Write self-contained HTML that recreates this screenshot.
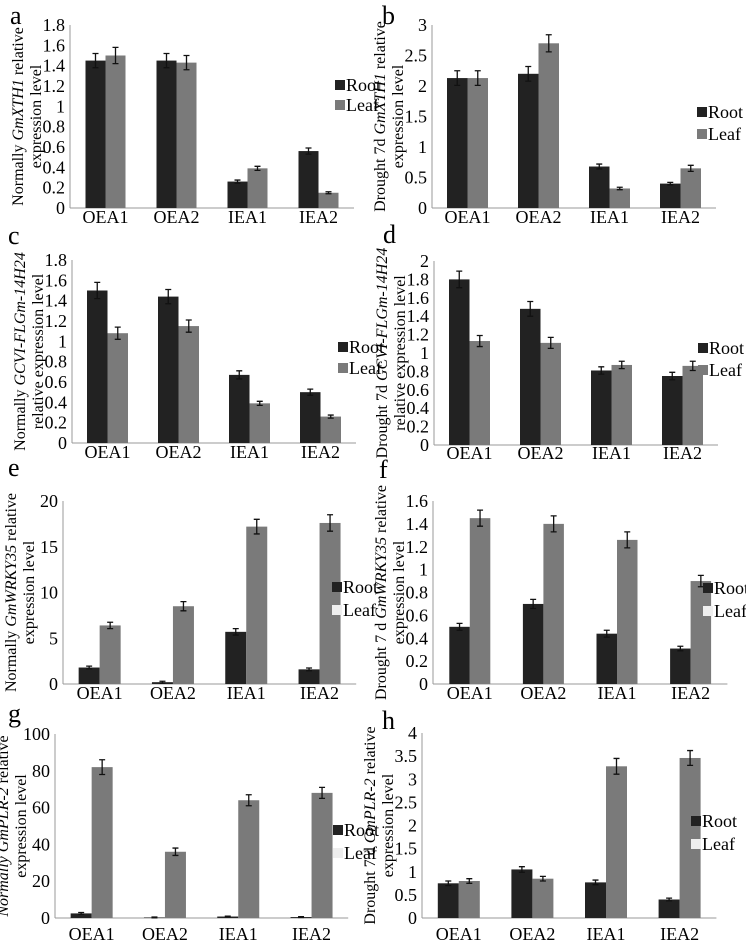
<!DOCTYPE html>
<html><head><meta charset="utf-8">
<style>
html,body{margin:0;padding:0;background:#fff;}
svg{display:block;}
svg text{font-family:"Liberation Serif","DejaVu Serif",serif;}
</style></head>
<body>
<svg id="fig" width="746" height="942" viewBox="0 0 746 942" font-family="Liberation Serif, DejaVu Serif, serif"></svg>
<script>
const categories = ["OEA1","OEA2","IEA1","IEA2"];
const seriesNames = ["Root","Leaf"];
const aRoot=[1.45,1.45,0.26,0.56], aRootErr=[0.07,0.07,0.015,0.03], aLeaf=[1.50,1.43,0.39,0.15], aLeafErr=[0.08,0.07,0.02,0.01];
const bRoot=[2.13,2.20,0.68,0.40], bRootErr=[0.12,0.12,0.04,0.02], bLeaf=[2.13,2.70,0.32,0.65], bLeafErr=[0.12,0.14,0.02,0.05];
const cRoot=[1.50,1.44,0.67,0.50], cRootErr=[0.08,0.07,0.04,0.03], cLeaf=[1.08,1.15,0.39,0.26], cLeafErr=[0.06,0.06,0.02,0.015];
const dRoot=[1.80,1.48,0.81,0.75], dRootErr=[0.09,0.08,0.04,0.04], dLeaf=[1.13,1.11,0.87,0.86], dLeafErr=[0.06,0.06,0.04,0.05];
const eRoot=[1.8,0.2,5.7,1.6], eRootErr=[0.15,0.1,0.35,0.15], eLeaf=[6.4,8.5,17.2,17.6], eLeafErr=[0.35,0.5,0.8,0.9];
const fRoot=[0.50,0.70,0.44,0.31], fRootErr=[0.03,0.04,0.03,0.02], fLeaf=[1.45,1.40,1.26,0.90], fLeafErr=[0.07,0.07,0.07,0.05];
const gRoot=[2.5,0.3,0.8,0.5], gRootErr=[0.5,0.2,0.2,0.2], gLeaf=[82,36,64,68], gLeafErr=[4,2,3,3];
const hRoot=[0.75,1.05,0.77,0.40], hRootErr=[0.05,0.06,0.05,0.03], hLeaf=[0.80,0.85,3.28,3.46], hLeafErr=[0.05,0.05,0.17,0.16];
const aTicks=[0,0.2,0.4,0.6,0.8,1,1.2,1.4,1.6,1.8];
const bTicks=[0,0.5,1,1.5,2,2.5,3];
const cTicks=[0,0.2,0.4,0.6,0.8,1,1.2,1.4,1.6,1.8];
const dTicks=[0,0.2,0.4,0.6,0.8,1,1.2,1.4,1.6,1.8,2];
const eTicks=[0,5,10,15,20];
const fTicks=[0,0.2,0.4,0.6,0.8,1,1.2,1.4,1.6];
const gTicks=[0,20,40,60,80,100];
const hTicks=[0,0.5,1,1.5,2,2.5,3,3.5,4];

const NS="http://www.w3.org/2000/svg";
const svg=document.getElementById('fig');
const FF="'Liberation Serif','DejaVu Serif',serif";
function mk(tag,attrs,parent,text){const e=document.createElementNS(NS,tag);for(const k in attrs)e.setAttribute(k,attrs[k]);if(tag==='text')e.setAttribute('font-family',FF);if(text!==undefined)e.textContent=text;(parent||svg).appendChild(e);return e;}

const panels=[
 {id:'a',root:aRoot,rootErr:aRootErr,leaf:aLeaf,leafErr:aLeafErr,ticks:aTicks,ax:70,top:25,zero:208,sp:71,bw:20,letter:[10,24],lbl:[["Normally ",["GmXTH1"]," relative"],["expression level"]],lgx:335,lgy:[91,111],xly:223,lightLeaf:false},
 {id:'b',root:bRoot,rootErr:bRootErr,leaf:bLeaf,leafErr:bLeafErr,ticks:bTicks,ax:432,top:25,zero:208,sp:71,bw:20.5,letter:[382,24],lbl:[["Drought  7d ",["GmXTH1"]," relative"],["expression level"]],lgx:697,lgy:[118,140],xly:223,lightLeaf:false},
 {id:'c',root:cRoot,rootErr:cRootErr,leaf:cLeaf,leafErr:cLeafErr,ticks:cTicks,ax:72,top:260,zero:443,sp:71,bw:20.5,letter:[8,244],lbl:[["Normally ",["GCVI-FLGm-14H24"]],["relative expression level"]],lgx:338,lgy:[353,374],xly:458,lightLeaf:false},
 {id:'d',root:dRoot,rootErr:dRootErr,leaf:dLeaf,leafErr:dLeafErr,ticks:dTicks,ax:434,top:261,zero:445,sp:71,bw:20.5,letter:[383,243],lbl:[["Drought  7d ",["GCVI-FLGm-14H24"]],["relative expression level"]],lgx:698,lgy:[354,376],xly:459,lightLeaf:false},
 {id:'e',root:eRoot,rootErr:eRootErr,leaf:eLeaf,leafErr:eLeafErr,ticks:eTicks,ax:63,top:501,zero:684,sp:73.3,bw:21,letter:[8,476],lbl:[["Normally ",["GmWRKY35"]," relative"],["expression level"]],lgx:332,lgy:[593,616],xly:699,lightLeaf:true},
 {id:'f',root:fRoot,rootErr:fRootErr,leaf:fLeaf,leafErr:fLeafErr,ticks:fTicks,ax:433,top:501,zero:684,sp:73.6,bw:20.5,letter:[379,478],lbl:[["Drought 7 d ",["GmWRKY35"]," relative"],["expression level"]],lgx:703,lgy:[594,617],xly:699,lightLeaf:true},
 {id:'g',root:gRoot,rootErr:gRootErr,leaf:gLeaf,leafErr:gLeafErr,ticks:gTicks,ax:55,top:734,zero:918,sp:73.3,bw:21,letter:[8,722],lbl:[[["Normally"]," ",["GmPLR-2"]," relative"],["expression level"]],lgx:333,lgy:[836,859],xly:940,lightLeaf:true},
 {id:'h',root:hRoot,rootErr:hRootErr,leaf:hLeaf,leafErr:hLeafErr,ticks:hTicks,ax:422,top:733,zero:918,sp:73.6,bw:21,letter:[382,729],lbl:[["Drought 7 d ",["GmPLR-2"]," relative"],["expression level"]],lgx:691,lgy:[827,850],xly:940,lightLeaf:true}
];

panels.forEach(p=>{
 const g=mk('g',{});
 
 
 const tmax=p.ticks[p.ticks.length-1];
 const y=v=>p.zero-(v/tmax)*(p.zero-p.top);
 const right=p.ax+4*p.sp;
 const L=mk('text',{x:p.letter[0],y:p.letter[1],'font-size':26},g,p.id);
 
 
 const yax=mk('line',{x1:p.ax,y1:p.top,x2:p.ax,y2:p.zero,stroke:'#999','stroke-width':1},g);
 
 
 const xax=mk('line',{x1:p.ax,y1:p.zero,x2:right,y2:p.zero,stroke:'#999','stroke-width':1},g);
 
 
 p.ticks.forEach(t=>{
  const tl=mk('text',{x:p.ax-5,y:y(t)+6,'font-size':18,'text-anchor':'end'},g,String(t));
  
  
 });
 categories.forEach((c,i)=>{
  const cx=p.ax+p.sp*(i+0.5);
  const xl=mk('text',{x:cx,y:p.xly,'font-size':18,'text-anchor':'middle'},g,c);
  
  
  [[p.root[i],p.rootErr[i],'#222',-p.bw],[p.leaf[i],p.leafErr[i],'#7a7a7a',0]].forEach((s,k)=>{
   const bx=cx+s[3];
   const r=mk('rect',{x:bx,y:y(s[0]),width:p.bw,height:p.zero-y(s[0]),fill:s[2]},g);
   
   
   const ex=bx+p.bw/2, y1=y(s[0]+s[1]), y2=y(s[0]-s[1]);
   const eb=mk('path',{d:`M${ex},${y1}V${y2}M${ex-3},${y1}H${ex+3}M${ex-3},${y2}H${ex+3}`,stroke:'#111','stroke-width':1.3,fill:'none'},g);
   
   
  });
 });
 seriesNames.forEach((n,k)=>{
  const col=k===0?'#222':(p.lightLeaf?'#eeeeee':'#7a7a7a');
  const sw=mk('rect',{x:p.lgx,y:p.lgy[k]-11,width:10,height:10,fill:col},g);
  
  
  const lt=mk('text',{x:p.lgx+11,y:p.lgy[k],'font-size':18},g,n);
  
  
 });
 const cy=(p.top+p.zero)/2;
 [p.ax-47,p.ax-29].forEach((bx,li)=>{
  const t=mk('text',{x:bx,y:cy,'font-size':16,'text-anchor':'middle',transform:`rotate(-90 ${bx} ${cy})`},g);
  
  
  p.lbl[li].forEach(part=>{
   if(Array.isArray(part)) mk('tspan',{'font-style':'italic'},t,part[0]);
   else mk('tspan',{},t,part);
  });
 });
});
</script>
</body></html>
